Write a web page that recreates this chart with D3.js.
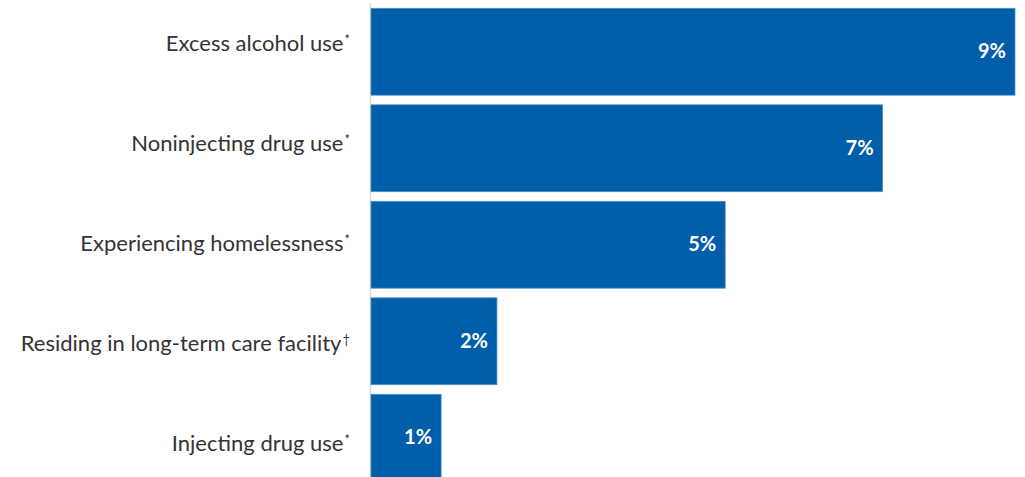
<!DOCTYPE html>
<html>
<head>
<meta charset="utf-8">
<script src="https://cdn.jsdelivr.net/npm/d3@7/dist/d3.min.js"></script>
<style>
html,body{margin:0;padding:0;background:#fff;}
svg{display:block;}
</style>
</head>
<body>
<svg id="chart" width="1025" height="477"></svg>
<script>
const categories = ["Excess alcohol use", "Noninjecting drug use", "Experiencing homelessness", "Residing in long-term care facility", "Injecting drug use"];
const footnotes = ["*", "*", "*", "\u2020", "*"];
const values = [9.0, 7.15, 4.95, 1.76, 0.98];
const valueLabels = ["9%", "7%", "5%", "2%", "1%"];

const svg = d3.select("#chart");
const W = 1025, H = 477;
const x0 = 371;
const x = d3.scaleLinear().domain([0, 9]).range([x0, 1015]);
const y = d3.scaleBand().domain(categories).range([3.5, 486]).paddingInner(0.1).paddingOuter(0.05);
// category labels sit on their own, slightly wider, spacing
const yLab = d3.scalePoint().domain(categories).range([43.5, 443.5]);

// axis line
svg.append("line")
  .attr("x1", x0 - 0.5).attr("x2", x0 - 0.5)
  .attr("y1", 3).attr("y2", H)
  .attr("stroke", "#d9d9d9").attr("stroke-width", 1.5);

const data = categories.map((c, i) => ({c, v: values[i], lab: valueLabels[i], fn: footnotes[i]}));

svg.selectAll("rect.bar").data(data).join("rect")
  .attr("class", "bar")
  .attr("x", x(0))
  .attr("y", d => y(d.c))
  .attr("width", d => x(d.v) - x(0))
  .attr("height", y.bandwidth())
  .attr("fill", "#005eaa")
  .attr("stroke", "#4f8fc7").attr("stroke-width", 0.8);

svg.selectAll("text.val").data(data).join("text")
  .attr("class", "val")
  .attr("x", d => x(d.v) - 9)
  .attr("y", d => y(d.c) + y.bandwidth() / 2)
  .attr("dy", "0.33em")
  .attr("text-anchor", "end")
  .attr("fill", "#fff")
  .attr("font-family", "Lato, 'Open Sans', sans-serif")
  .attr("font-weight", "bold")
  .attr("font-size", 20)
  .text(d => d.lab);

const lab = svg.selectAll("text.cat").data(data).join("text")
  .attr("class", "cat")
  .attr("x", 350)
  .attr("y", d => yLab(d.c))
  .attr("dy", "0.355em")
  .attr("text-anchor", "end")
  .attr("fill", "#333333")
  .attr("font-family", "Lato, 'Open Sans', sans-serif")
  .attr("font-size", 22);
lab.append("tspan").text(d => d.c);
lab.append("tspan").attr("font-size", 13).attr("dy", "-0.6em").attr("dx", 1).text(d => d.fn);
</script>
</body>
</html>
